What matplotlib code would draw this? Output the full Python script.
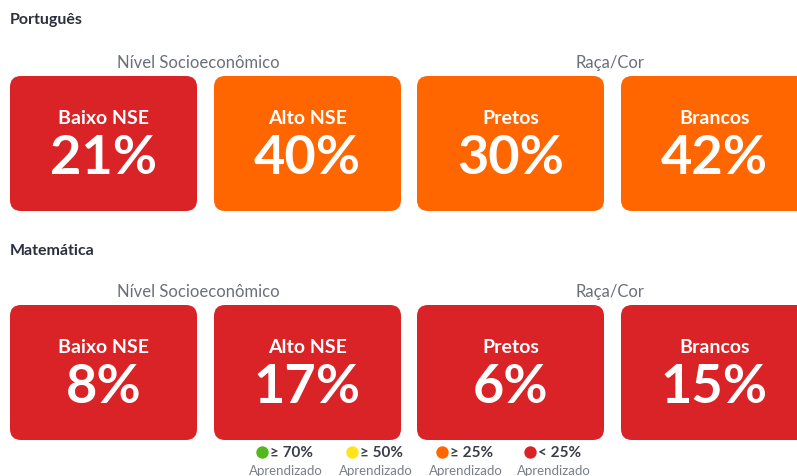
import matplotlib.pyplot as plt
from matplotlib.patches import FancyBboxPatch

plt.rcParams['font.family'] = ['Lato', 'DejaVu Sans']

subjects = ['Português', 'Matemática']
groups = ['Nível Socioeconômico', 'Raça/Cor']
labels = ['Baixo NSE', 'Alto NSE', 'Pretos', 'Brancos']
values = [
    [21, 40, 30, 42],
    [8, 17, 6, 15],
]
legend_labels = ['≥ 70%', '≥ 50%', '≥ 25%', '< 25%']
legend_colors = ['#52b81c', '#ffe41c', '#ff6600', '#da2326']

def card_color(v):
    if v >= 70:
        return legend_colors[0]
    if v >= 50:
        return legend_colors[1]
    if v >= 25:
        return legend_colors[2]
    return legend_colors[3]

W, H = 797, 477
fig = plt.figure(figsize=(W / 100, H / 100), dpi=100)
ax = fig.add_axes([0, 0, 1, 1])
ax.set_xlim(0, W)
ax.set_ylim(H, 0)
ax.axis('off')

card_x = [10, 214, 417, 621]
card_w = 187
card_h = 135
row_top = [77, 306]
title_y = [20, 251]
group_x = [198, 610]

for r, subj in enumerate(subjects):
    ax.text(10, title_y[r], subj, fontsize=11.5, fontweight='bold', color='#2b2f3e',
            ha='left', va='center')
    for g, grp in enumerate(groups):
        ax.text(group_x[g], row_top[r] - 14, grp, fontsize=12, color='#6b6f78',
                ha='center', va='center')
    for i, lab in enumerate(labels):
        x0 = card_x[i]
        y0 = row_top[r]
        box = FancyBboxPatch((x0 + 10, y0 + 10), card_w - 20, card_h - 20,
                             boxstyle='round,pad=10,rounding_size=11', linewidth=0,
                             facecolor=card_color(values[r][i]))
        ax.add_patch(box)
        cx = x0 + card_w / 2
        ax.text(cx, y0 + 42, lab, fontsize=14, fontweight='bold', color='white',
                ha='center', va='center')
        ax.text(cx, y0 + 82, f'{values[r][i]}%', fontsize=39, fontweight='bold',
                color='white', ha='center', va='center')

leg_x = [262, 352, 442, 530]
for i, lab in enumerate(legend_labels):
    ax.scatter([leg_x[i]], [453], s=80, color=legend_colors[i], zorder=3, linewidths=0)
    ax.text(leg_x[i] + 8, 453, lab, fontsize=11, fontweight='bold', color='#3a3d48',
            ha='left', va='center')
    ax.text(leg_x[i] + 24, 471, 'Aprendizado', fontsize=9.5, color='#7a7e86',
            ha='center', va='center')

fig.savefig('out.png', dpi=100)
